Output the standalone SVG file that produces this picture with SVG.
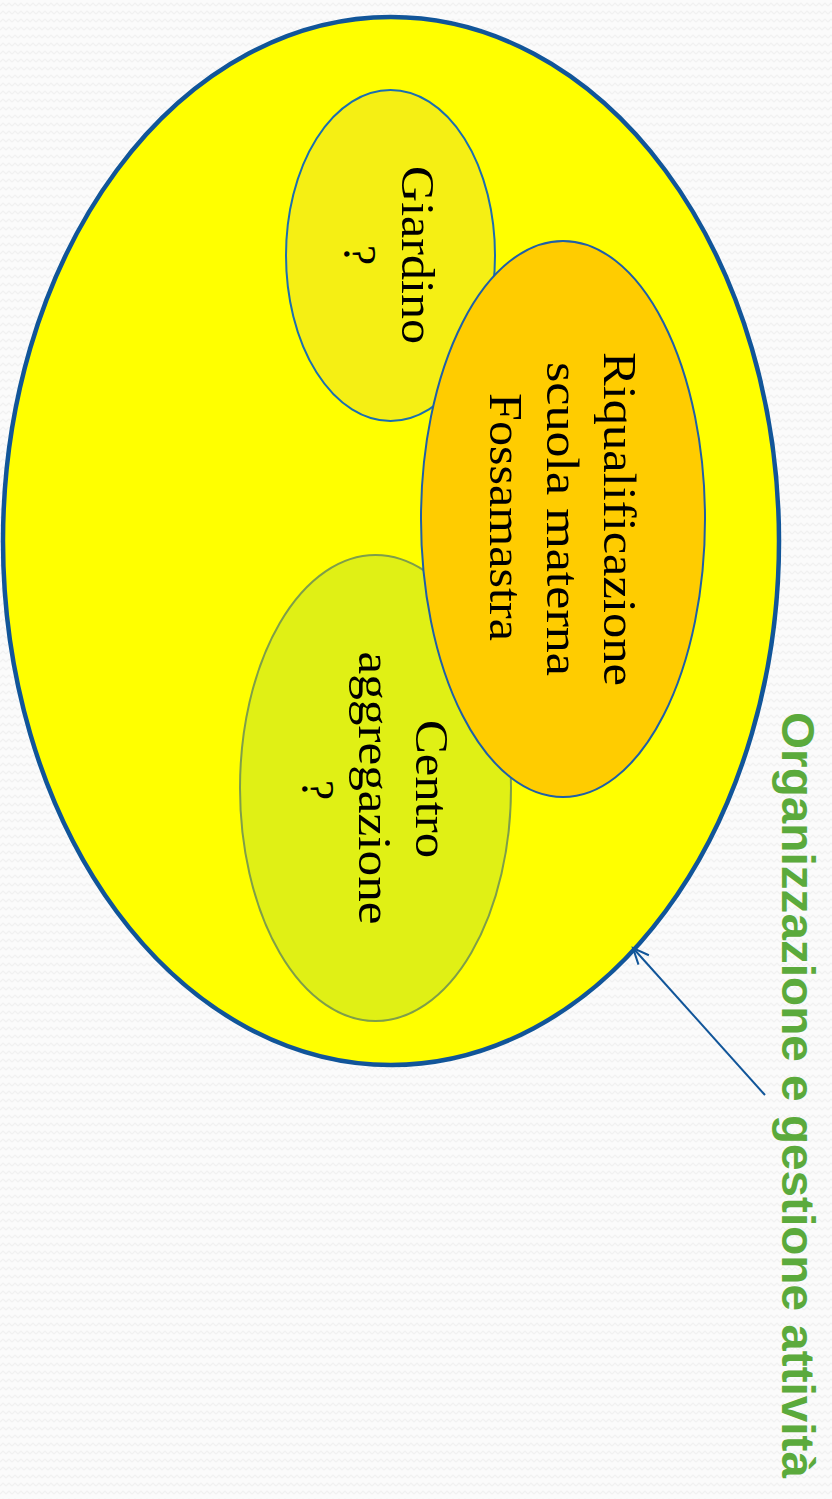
<svg xmlns="http://www.w3.org/2000/svg" width="832" height="1499" viewBox="0 0 832 1499">
  <defs>
    <pattern id="bgpat" width="12" height="8" patternUnits="userSpaceOnUse">
      <rect width="12" height="8" fill="#FBFBFB"/>
      <path d="M0 6 L3 3 L6 6 L9 3 L12 6" fill="none" stroke="#F1F1F1" stroke-width="1.2"/>
    </pattern>
    <marker id="openArrow" markerWidth="22" markerHeight="22" refX="19" refY="11" orient="auto" markerUnits="userSpaceOnUse">
      <path d="M3 4 L19 11 L3 18" fill="none" stroke="#115599" stroke-width="2"/>
    </marker>
    <style>
      .lbl { font-family: "Liberation Sans", sans-serif; font-family: "Liberation Serif", "Times New Roman", serif; font-size: 46px; fill: #000; text-anchor: middle; }
      .title { font-family: "Liberation Sans", Arial, sans-serif; font-weight: bold; font-size: 47px; fill: #5BAA3C; }
      .conn { stroke: #115599; stroke-width: 2; fill: none; }
    </style>
  </defs>
  <rect width="832" height="1499" fill="url(#bgpat)"/>

  <g id="outer">
    <ellipse cx="391" cy="541" rx="388" ry="524" fill="#FFFF00" stroke="#115599" stroke-width="4.5"/>
  </g>

  <g id="giardino">
    <ellipse cx="390.5" cy="255.5" rx="104.5" ry="165.5" fill="#F5EF14" stroke="#1B6EB0" stroke-width="2"/>
    <text class="lbl" transform="translate(402,255) rotate(90)" textLength="178" lengthAdjust="spacingAndGlyphs">Giardino</text>
    <text class="lbl" transform="translate(344,255) rotate(90)">?</text>
  </g>

  <g id="centro">
    <ellipse cx="375.5" cy="788" rx="135.5" ry="233" fill="#E0F015" stroke="#7E9E4A" stroke-width="2"/>
    <text class="lbl" transform="translate(416,789) rotate(90)" textLength="138" lengthAdjust="spacingAndGlyphs">Centro</text>
    <text class="lbl" transform="translate(359,788) rotate(90)" textLength="273" lengthAdjust="spacingAndGlyphs">aggregazione</text>
    <text class="lbl" transform="translate(302,790) rotate(90)">?</text>
  </g>

  <g id="riqualificazione">
    <ellipse cx="563" cy="519" rx="142" ry="278" fill="#FFCC00" stroke="#1F5FA8" stroke-width="2"/>
    <text class="lbl" transform="translate(604,519) rotate(90)" textLength="334" lengthAdjust="spacingAndGlyphs">Riqualificazione</text>
    <text class="lbl" transform="translate(547,519) rotate(90)" textLength="314" lengthAdjust="spacingAndGlyphs">scuola materna</text>
    <text class="lbl" transform="translate(490,517) rotate(90)" textLength="248" lengthAdjust="spacingAndGlyphs">Fossamastra</text>
  </g>

  <g id="connectors">
    <line class="conn" x1="765" y1="1095" x2="633" y2="948" marker-end="url(#openArrow)"/>
  </g>

  <g id="label-organizzazione">
    <text class="title" transform="translate(782,712) rotate(90)" textLength="766" lengthAdjust="spacingAndGlyphs">Organizzazione e gestione attività</text>
  </g>
</svg>
